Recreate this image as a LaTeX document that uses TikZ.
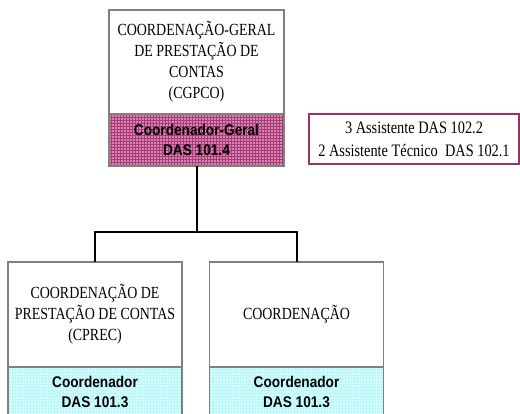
\documentclass[tikz,border=0pt]{standalone}
\usepackage{fontspec}
\setmainfont{Liberation Serif}[FakeStretch=0.82]
\newfontfamily\cargofont{Liberation Sans}[FakeStretch=0.88]
\usetikzlibrary{positioning,patterns}
\definecolor{roxo}{RGB}{218,130,176}
\definecolor{roxograde}{RGB}{165,62,120}
\definecolor{ciano}{RGB}{210,255,255}
\definecolor{cianograde}{RGB}{190,246,248}
\definecolor{cinza}{RGB}{128,128,128}
\definecolor{vinho}{RGB}{153,51,102}
\tikzset{every picture/.style={line width=0.75pt}}
\tikzset{
	unidade/.style={draw=cinza,line width=1.5pt,fill=white,outer sep=0pt,inner sep=0pt,align=center,font=\fontsize{17}{21}\selectfont},
	cargo/.style={draw=cinza,line width=1.5pt,outer sep=0pt,inner sep=0pt,align=center,font=\cargofont\bfseries\fontsize{15.5}{20}\selectfont},
	cargoroxo/.style={cargo,pattern=grid,pattern color=roxograde,preaction={fill=roxo}},
	cargociano/.style={cargo,pattern=grid,pattern color=cianograde,preaction={fill=ciano}},
	conector/.style={draw=black,line width=2pt}
}
\begin{document}
\begin{tikzpicture}[x=1pt,y=1pt]
	\useasboundingbox (0,0) rectangle (520,414);
	\node[unidade,minimum width=175pt,minimum height=104pt] (cgpco) at (196.5,352) {COORDENAÇÃO-GERAL\\DE PRESTAÇÃO DE\\CONTAS\\(CGPCO)}; %topo
	\node[cargoroxo,minimum width=175pt,minimum height=52pt,below=0pt of cgpco] (cgpost) {Coordenador-Geral\\DAS 101.4};
	\node[draw=vinho,line width=2pt,fill=white,inner sep=0pt,align=center,minimum width=210pt,minimum height=50pt,font=\fontsize{17.5}{23}\selectfont] (assist) at (414,275) {3 Assistente DAS 102.2\\2 Assistente Técnico\ \ DAS 102.1}; %assistentes
	\node[unidade,minimum width=174pt,minimum height=105pt] (cprec) at (95,99.5) {COORDENAÇÃO DE\\PRESTAÇÃO DE CONTAS\\(CPREC)};
	\node[cargociano,minimum width=174pt,minimum height=50pt,below=0pt of cprec] (cprecpost) {Coordenador\\DAS 101.3};
	\node[unidade,minimum width=174pt,minimum height=105pt] (coord) at (296.5,99.5) {COORDENAÇÃO};
	\node[cargociano,minimum width=174pt,minimum height=50pt,below=0pt of coord] (coordpost) {Coordenador\\DAS 101.3};
	\coordinate (barra) at (196.5,182); %linha horizontal
	\draw[conector] (cgpost.south) -- (barra);
	\draw[conector] (cprec.north) |- (barra) -| (coord.north);
\end{tikzpicture}
\end{document}
